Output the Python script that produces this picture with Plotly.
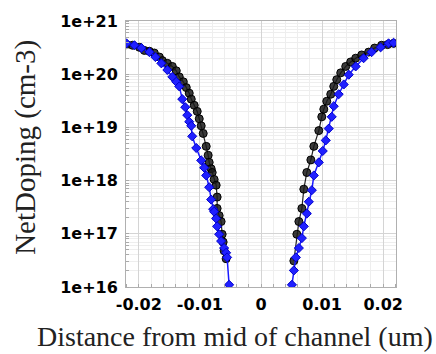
import plotly.graph_objects as go

# Black series (circles), left and right branches
black_left_x = [-0.02202, -0.02104, -0.01990, -0.01909, -0.01827, -0.01746, -0.01664, -0.01615,
                -0.01533, -0.01452, -0.01387, -0.01338, -0.01272, -0.01223, -0.01175, -0.01142,
                -0.01093, -0.01044, -0.01011, -0.00979, -0.00946, -0.00897, -0.00865, -0.00848,
                -0.00816, -0.00799, -0.00767, -0.00734, -0.00718, -0.00718, -0.00685, -0.00653,
                -0.00636, -0.00620, -0.00604, -0.00571]
black_left_y = [3.6e20, 3.5e20, 3.2e20, 2.8e20, 2.7e20, 2.5e20, 2.1e20, 1.8e20,
                1.6e20, 1.4e20, 1.16e20, 8.9e19, 7.2e19, 5.6e19, 4.4e19, 3.4e19,
                2.6e19, 2.0e19, 1.45e19, 1.07e19, 7.7e18, 4.4e18, 3.0e18, 2.2e18,
                1.67e18, 1.42e18, 1.05e18, 8.2e17, 4.9e17, 3.0e17, 2.2e17, 1.7e17,
                9.8e16, 7.0e16, 4.8e16, 3.4e16]
black_right_x = [0.00538, 0.00587, 0.00620, 0.00669, 0.00701, 0.00750, 0.00816, 0.00865,
                 0.00946, 0.00995, 0.01028, 0.01077, 0.01142, 0.01191, 0.01240, 0.01305,
                 0.01387, 0.01468, 0.01550, 0.01648, 0.01762, 0.01860, 0.01974, 0.02072, 0.02170]
black_right_y = [3.1e16, 9.8e16, 1.7e17, 3.0e17, 6.9e17, 1.42e18, 2.45e18, 4.4e18,
                 8.7e18, 1.58e19, 2.2e19, 3.1e19, 4.2e19, 5.9e19, 7.9e19, 1.06e20,
                 1.4e20, 1.7e20, 2.0e20, 2.3e20, 2.6e20, 3.1e20, 3.5e20, 3.6e20, 3.8e20]

# Blue series (diamonds)
blue_left_x = [-0.02202, -0.02072, -0.01958, -0.01827, -0.01729, -0.01631, -0.01533, -0.01452,
               -0.01387, -0.01338, -0.01289, -0.01240, -0.01207, -0.01175, -0.01142, -0.01126,
               -0.01060, -0.00979, -0.00930, -0.00897, -0.00848, -0.00816, -0.00783, -0.00767,
               -0.00734, -0.00718, -0.00685, -0.00653, -0.00604, -0.00571, -0.00555, -0.00522]
blue_left_y = [3.8e20, 3.5e20, 3.1e20, 2.6e20, 2.1e20, 1.6e20, 1.2e20, 8.9e19,
               7.2e19, 5.9e19, 3.4e19, 2.4e19, 1.7e19, 1.28e19, 1.07e19, 6.8e18,
               4.1e18, 2.4e18, 1.75e18, 1.25e18, 7.5e17, 4.4e17, 2.9e17, 2.6e17,
               1.94e17, 1.38e17, 9.8e16, 7.3e16, 5.4e16, 4.4e16, 3.6e16, 1.1e16]
blue_right_x = [0.00506, 0.00538, 0.00571, 0.00620, 0.00669, 0.00701, 0.00750, 0.00783,
                0.00832, 0.00865, 0.00946, 0.01011, 0.01060, 0.01109, 0.01158, 0.01191,
                0.01272, 0.01354, 0.01436, 0.01550, 0.01680, 0.01811, 0.01958, 0.02088, 0.02170]
blue_right_y = [1.1e16, 2.05e16, 3.6e16, 5.4e16, 8.3e16, 1.38e17, 2.4e17, 4.0e17,
                6.6e17, 1.25e18, 2.2e18, 3.6e18, 5.7e18, 9.5e18, 1.58e19, 2.5e19,
                4.2e19, 6.4e19, 9.8e19, 1.4e20, 2.0e20, 2.6e20, 3.2e20, 3.8e20, 3.9e20]

x_tickvals = [-0.02, -0.01, 0, 0.01, 0.02]
x_ticktext = ["-0.02", "-0.01", "0", "0.01", "0.02"]
y_tickvals = [1e16, 1e17, 1e18, 1e19, 1e20, 1e21]
y_ticktext = ["1e+16", "1e+17", "1e+18", "1e+19", "1e+20", "1e+21"]

fig = go.Figure()

black_style = dict(mode="lines+markers",
                   line=dict(color="#222222", width=1.2),
                   marker=dict(symbol="circle", size=8, color="rgba(25,25,25,0.85)",
                               line=dict(color="#000000", width=1)),
                   showlegend=False)
blue_style = dict(mode="lines+markers",
                  line=dict(color="#1a1aff", width=1.5),
                  marker=dict(symbol="diamond", size=7, color="#2020ff",
                              line=dict(color="#0000cc", width=1)),
                  showlegend=False)

fig.add_trace(go.Scatter(x=black_left_x, y=black_left_y, **black_style))
fig.add_trace(go.Scatter(x=black_right_x, y=black_right_y, **black_style))
fig.add_trace(go.Scatter(x=blue_left_x, y=blue_left_y, **blue_style))
fig.add_trace(go.Scatter(x=blue_right_x, y=blue_right_y, **blue_style))

tickfont = dict(family="DejaVu Sans", size=16, color="black", weight="bold")

fig.update_layout(
    width=436, height=354,
    margin=dict(l=126, r=40, t=15, b=67),
    paper_bgcolor="white", plot_bgcolor="white",
    xaxis=dict(range=[-0.0221, 0.0221], tickvals=x_tickvals, ticktext=x_ticktext,
               tickfont=tickfont, showgrid=True, gridcolor="#d4d4d4", gridwidth=1,
               zeroline=False, showline=True, linecolor="#b0b0b0", linewidth=1, mirror=True,
               ticks="", ticklabelstandoff=3,
               minor=dict(dtick=0.002, showgrid=True, gridcolor="#eeeeee",
                          ticks="inside", ticklen=3, tickcolor="#aaaaaa")),
    yaxis=dict(type="log", range=[16, 21], tickvals=y_tickvals, ticktext=y_ticktext,
               tickfont=tickfont, showgrid=True, gridcolor="#d4d4d4", gridwidth=1,
               zeroline=False, showline=True, linecolor="#b0b0b0", linewidth=1, mirror=True,
               ticks="", ticklabelstandoff=4,
               minor=dict(dtick="D1", showgrid=True, gridcolor="#eeeeee",
                          ticks="inside", ticklen=3, tickcolor="#aaaaaa")),
    annotations=[
        dict(text="NetDoping (cm-3)", textangle=-90, xref="paper", yref="paper",
             x=-0.375, y=0.526, xanchor="center", yanchor="middle", showarrow=False,
             font=dict(family="Liberation Serif", size=29, color="#222222")),
        dict(text="Distance from mid of channel (um)", xref="paper", yref="paper",
             x=0.404, y=-0.1875, xanchor="center", yanchor="middle", showarrow=False,
             font=dict(family="Liberation Serif", size=28, color="#222222")),
    ],
)

fig.write_html("out.html")
